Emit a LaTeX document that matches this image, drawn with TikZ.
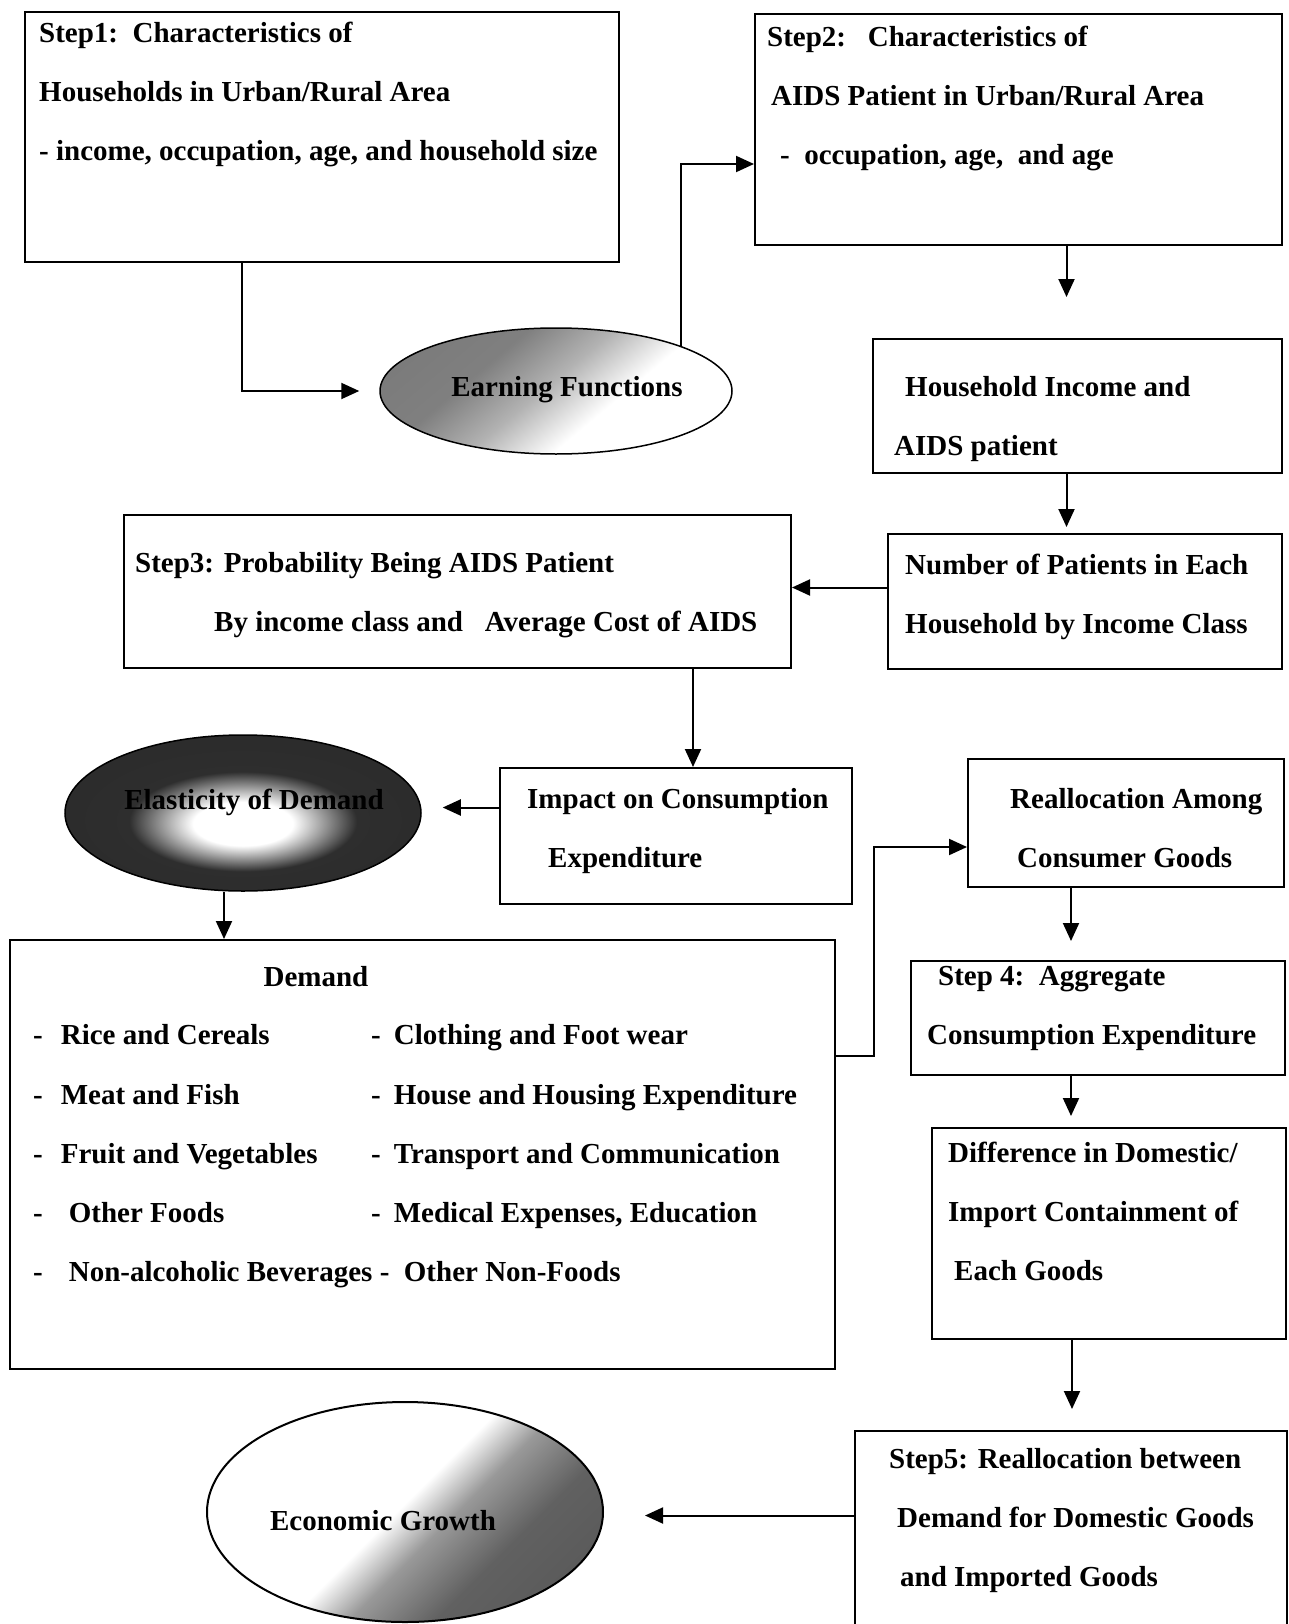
\documentclass[tikz,border=0pt]{standalone}
\usepackage{fontspec}
\setmainfont{Liberation Serif}
\usetikzlibrary{arrows.meta,shapes.geometric,positioning}

% shadings for the three ellipses
\pgfdeclareverticalshading{earnshade}{100bp}{color(0bp)=(white); color(40bp)=(white); color(52bp)=(black!30); color(64bp)=(black!50); color(100bp)=(black!55)}
\pgfdeclareradialshading{elastshade}{\pgfpoint{0bp}{-4bp}}{color(0bp)=(white); color(7bp)=(white); color(16bp)=(black!82); color(50bp)=(black!85)}
\pgfdeclareverticalshading{econshade}{100bp}{color(0bp)=(black!70); color(34bp)=(black!62); color(44bp)=(black!40); color(51bp)=(white); color(100bp)=(white)}

\tikzset{
  stepbox/.style={draw, rectangle, line width=2pt, inner sep=0pt},
  txt/.style={anchor=north west, align=left, inner sep=0pt, yshift=-2.5pt, font=\fontsize{29}{59}\selectfont\bfseries},
  ovaltxt/.style={inner sep=0pt, font=\fontsize{29}{34}\selectfont\bfseries},
  arr/.style={line width=2pt, -{Triangle[length=18pt,width=16pt]}},
}

\begin{document}
\begin{tikzpicture}[x=1pt, y=-1pt]
\useasboundingbox (0,0) rectangle (1288,1624);
\clip (0,0) rectangle (1288,1624);

% boxes
\node[stepbox, minimum width=594, minimum height=250] (step1) at (322,137) {};
\node[stepbox, minimum width=527, minimum height=231] (step2) at (1018.5,129.5) {};
\node[stepbox, minimum width=409, minimum height=134] (hhinc) at (1077.5,406) {};
\node[stepbox, minimum width=394, minimum height=135] (npat) at (1085,601.5) {};
\node[stepbox, minimum width=667, minimum height=153] (step3) at (457.5,591.5) {};
\node[stepbox, minimum width=352, minimum height=136] (impact) at (675.5,836) {};
\node[stepbox, minimum width=316, minimum height=128] (realloc) at (1126,823) {};
\node[stepbox, minimum width=825, minimum height=429] (demand) at (422.5,1154.5) {};
\node[stepbox, minimum width=374, minimum height=114] (step4) at (1098,1018) {};
\node[stepbox, minimum width=354, minimum height=211] (diffdm) at (1109,1233.5) {};
\node[stepbox, minimum width=432, minimum height=219] (step5) at (1071,1540.5) {};

% ellipses
\node[ellipse, draw, line width=1.5pt, shade, shading=earnshade, shading angle=40,
      minimum width=352, minimum height=126] (earn) at (556,391) {};
\node[ellipse, draw, line width=1.5pt, shade, shading=elastshade,
      minimum width=356, minimum height=156] (elast) at (243,813) {};
\node[ellipse, draw, line width=2pt, shade, shading=econshade, shading angle=45,
      minimum width=396, minimum height=220] (econ) at (405,1512) {};

% texts
\node[txt] (step1t) at (39,19) {Step1:\ \ Characteristics of\\Households in Urban/Rural Area\\- income, occupation, age, and household size};
\node[txt] (step2t) at (767,23) {Step2:\ \ \ Characteristics of\\\hspace*{4pt}AIDS Patient in Urban/Rural Area\\\hspace*{13pt}-\ \ occupation, age,\ \ and age};
\node[txt] (hhinct) at (894,374) {\hspace*{11pt}Household Income and\\AIDS patient};
\node[txt] (npatt) at (905,551) {Number of Patients in Each\\Household by Income Class};
\node[txt] (step3t) at (135,550) {Step3: Probability Being AIDS Patient\\\hspace*{79pt}By income class and\ \ \ Average Cost of AIDS};
\node[txt] (impactt) at (527,786) {Impact on Consumption\\\hspace*{21pt}Expenditure};
\node[txt] (reallct) at (1010,786) {Reallocation Among\\\hspace*{7pt}Consumer Goods};
\node[txt] (step4t) at (927,964) {\hspace*{11pt}Step 4:\ \ Aggregate\\Consumption Expenditure};
\node[txt] (diffdmt) at (948,1139) {Difference in Domestic/\\Import Containment of\\\hspace*{6pt}Each Goods};
\node[txt] (step5t) at (889,1446) {Step5: Reallocation between\\\hspace*{8pt}Demand for Domestic Goods\\\hspace*{11pt}and Imported Goods};

\node[ovaltxt] (earnt) at (567,390) {Earning Functions};
\node[ovaltxt] (elastt) at (254,802) {Elasticity of Demand};
\node[ovaltxt] (econt) at (383,1521) {Economic Growth};

% demand list
\node[ovaltxt] (demandt) at (316,977) {Demand};
\foreach \i/\ind/\lft/\rgt in {0/18/{Rice and Cereals}/{Clothing and Foot wear},
    1/18/{Meat and Fish}/{House and Housing Expenditure},
    2/18/{Fruit and Vegetables}/{Transport and Communication},
    3/26/{Other Foods}/{Medical Expenses, Education}}{
  \node[txt] (dl\i) at (33,{1022+59.3*\i}) {-\hspace*{\ind pt}\lft};
  \node[txt] (dr\i) at (371,{1022+59.3*\i}) {-\hspace*{13pt}\rgt};
}
\node[txt] (dl4) at (33,1259) {-\hspace*{26pt}Non-alcoholic Beverages -\ \ Other Non-Foods};

% arrows
\draw[arr] ([xshift=-80pt]step1.south) |- ([xshift=-20pt]earn.west);
\draw[arr] (earn.north east) |- ([yshift=-34.5pt]step2.west);
\draw[arr, shorten >=41pt] ([xshift=48pt]step2.south) -- ([xshift=48pt]step2.south |- hhinc.north);
\draw[arr, shorten >=6pt] ([xshift=-11pt]hhinc.south) -- ([xshift=-11pt]hhinc.south |- npat.north);
\draw[arr] ([yshift=14pt]npat.west) -- ([yshift=14pt]npat.west -| step3.east);
\draw[arr] ([xshift=17.5pt]impact.north |- step3.south) -- ([xshift=17.5pt]impact.north);
\draw[arr, shorten >=21pt] ([yshift=28.5pt]impact.west) -- ([yshift=28.5pt]impact.west -| elast.east);
\draw[arr] ([xshift=-19pt]elast.south) -- ([xshift=-19pt]elast.south |- demand.north);
\draw[arr] ([yshift=98.5pt]demand.east) -- ++(38,0) |- ([yshift=-24pt]realloc.west);
\draw[arr, shorten >=19pt] ([xshift=-55pt]realloc.south) -- ([xshift=-55pt]realloc.south |- step4.north);
\draw[arr, shorten >=11pt] ([xshift=-27pt]step4.south) -- ([xshift=-27pt]step4.south |- diffdm.north);
\draw[arr, shorten >=21pt] ([xshift=-37pt]diffdm.south) -- ([xshift=-37pt]diffdm.south |- step5.north);
\draw[arr, shorten >=41pt] ([yshift=25pt]step5.west) -- ([yshift=25pt]step5.west -| econ.east);

\end{tikzpicture}
\end{document}
